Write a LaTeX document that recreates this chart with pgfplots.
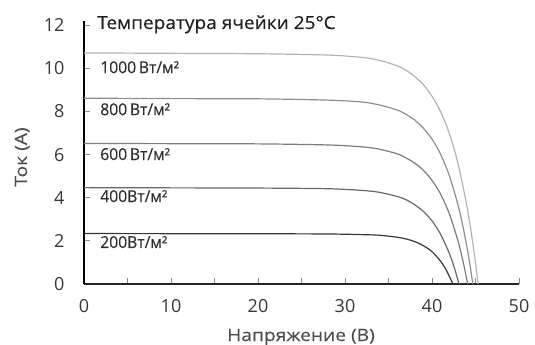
\documentclass[border=0pt]{standalone}
\usepackage{fontspec}
\setmainfont{Open Sans}
\newfontfamily\titlefont{Open Sans}[FakeStretch=1.06, FakeBold=0.4]
\newfontfamily\labfont{Open Sans}[FakeStretch=1.13, FakeBold=0.2]
\newfontfamily\curvefont{Open Sans}[FakeStretch=0.95, FakeBold=0.3]
\usepackage{pgfplots}
\pgfplotsset{compat=1.18}
\definecolor{cA}{HTML}{B3B3B3}
\definecolor{cB}{HTML}{8E8E8E}
\definecolor{cC}{HTML}{7E7B79}
\definecolor{cD}{HTML}{6E6660}
\definecolor{cE}{HTML}{2F3B3B}
\definecolor{txt}{HTML}{3B3631}
\begin{document}
\begin{tikzpicture}
\useasboundingbox (-84pt,-61pt) rectangle (451pt,284pt);
\begin{axis}[
  at={(0pt,0pt)}, anchor=south west,
  scale only axis, width=435pt, height=263pt,
  xmin=0, xmax=50, ymin=0, ymax=12.2,
  axis x line=bottom, axis y line=left,
  x axis line style={-, line width=1.8pt, color=black!85},
  y axis line style={-, line width=1.8pt, color=black},
  xtick={0,10,...,50}, minor xtick={5,15,...,45},
  ytick={0,2,...,12},
  tick align=inside,
  major tick length=6pt, minor tick length=6pt,
  every tick/.style={color=black!45, line width=0.8pt},
  /pgf/number format/assume math mode=true,
  ticklabel style={font=\fontsize{18}{18}\selectfont, text=txt},
  xticklabel style={yshift=-12pt},
  yticklabel style={xshift=-16pt},
  clip=false,
]
\addplot[cA, line width=1.2pt, smooth] coordinates {
(0,10.72) (10,10.70) (20,10.68) (28,10.62) (32,10.51) (34,10.37) (36,10.12) (37,9.92) (38,9.63) (39,9.25) (40,8.71) (41,7.98) (42,6.97) (43,5.57) (44,3.64) (44.6,2.15) (45,0.98) (45.3,0)};
\addplot[cB, line width=1.2pt, smooth] coordinates {
(0,8.62) (10,8.60) (20,8.59) (28,8.53) (32,8.44) (34,8.30) (36,8.07) (37,7.87) (38,7.61) (39,7.23) (40,6.72) (41,6.01) (42,5.02) (43,3.65) (43.6,2.59) (44.2,1.29) (44.7,0)};
\addplot[cC, line width=1.2pt, smooth] coordinates {
(0,6.52) (10,6.51) (20,6.50) (28,6.45) (32,6.36) (34,6.25) (36,6.04) (37,5.85) (38,5.61) (39,5.28) (40,4.81) (41,4.16) (42,3.25) (43,1.98) (43.6,0.99) (44.1,0)};
\addplot[cD, line width=1.2pt, smooth] coordinates {
(0,4.47) (10,4.46) (20,4.45) (28,4.42) (32,4.34) (34,4.25) (36,4.06) (37,3.91) (38,3.68) (39,3.37) (40,2.93) (41,2.30) (42,1.41) (42.6,0.71) (43.1,0)};
\addplot[cE, line width=1.2pt, smooth] coordinates {
(0,2.34) (10,2.335) (20,2.33) (28,2.32) (32,2.29) (34,2.26) (36,2.17) (37,2.09) (38,1.97) (39,1.78) (40,1.50) (41,1.05) (41.7,0.60) (42.4,0)};
\begin{scope}[every node/.style={anchor=base west, inner sep=0pt, text=black!82, font=\curvefont\fontsize{16.5}{16.5}\selectfont}]
\node at (axis cs:1.85,9.78) {1000\,Вт/м²};
\node at (axis cs:1.85,7.83) {800\,Вт/м²};
\node at (axis cs:1.85,5.75) {600\,Вт/м²};
\node at (axis cs:1.85,3.80) {400Вт/м²};
\node at (axis cs:1.85,1.67) {200Вт/м²};
\end{scope}
\end{axis}
\node[anchor=base west, inner sep=0pt, text=black!88, font=\titlefont\fontsize{18}{18}\selectfont] at (13pt,255pt) {Температура ячейки 25°C};
\node[anchor=base, inner sep=0pt, text=black!70, font=\labfont\fontsize{17}{17}\selectfont] at (217pt,-57pt) {Напряжение (В)};
\node[anchor=base, inner sep=0pt, rotate=90, text=black!70, font=\labfont\fontsize{17}{17}\selectfont] at (-57pt,127pt) {Ток (А)};
\end{tikzpicture}
\end{document}
